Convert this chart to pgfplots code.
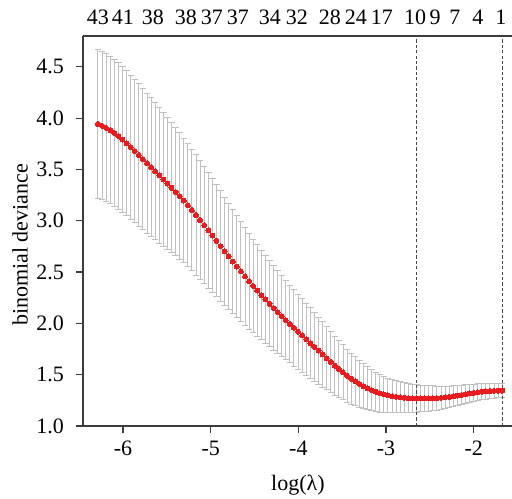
\documentclass[border=0pt]{standalone}
\usepackage{fontspec}
\setmainfont{Liberation Serif}
\usepackage{pgfplots}
\pgfplotsset{compat=1.18}
\usepackage{pgfplotstable}
\definecolor{barcol}{RGB}{192,192,192}
\definecolor{dotcol}{RGB}{232,28,30}
\definecolor{axcol}{RGB}{60,60,60}
\definecolor{vlcol}{RGB}{70,70,70}
\pgfplotstableread{
x y e
-6.285 3.943 0.725
-6.238 3.926 0.723
-6.192 3.906 0.720
-6.145 3.884 0.718
-6.099 3.857 0.715
-6.052 3.826 0.712
-6.006 3.792 0.710
-5.959 3.756 0.706
-5.912 3.718 0.702
-5.866 3.680 0.698
-5.819 3.641 0.694
-5.773 3.601 0.689
-5.726 3.561 0.683
-5.680 3.522 0.676
-5.633 3.482 0.668
-5.586 3.442 0.660
-5.540 3.402 0.651
-5.493 3.362 0.642
-5.447 3.322 0.633
-5.400 3.281 0.624
-5.354 3.240 0.616
-5.307 3.197 0.608
-5.260 3.152 0.600
-5.214 3.105 0.593
-5.167 3.057 0.586
-5.121 3.008 0.579
-5.074 2.958 0.571
-5.027 2.907 0.563
-4.981 2.856 0.555
-4.934 2.805 0.546
-4.888 2.754 0.537
-4.841 2.703 0.527
-4.795 2.653 0.517
-4.748 2.603 0.507
-4.702 2.554 0.497
-4.655 2.506 0.487
-4.608 2.458 0.477
-4.562 2.411 0.467
-4.515 2.365 0.457
-4.469 2.320 0.447
-4.422 2.276 0.437
-4.376 2.233 0.428
-4.329 2.191 0.420
-4.282 2.150 0.412
-4.236 2.110 0.404
-4.189 2.071 0.396
-4.143 2.032 0.388
-4.096 1.994 0.380
-4.050 1.956 0.373
-4.003 1.919 0.366
-3.957 1.882 0.359
-3.910 1.845 0.352
-3.863 1.808 0.344
-3.817 1.771 0.336
-3.770 1.734 0.327
-3.724 1.697 0.318
-3.677 1.660 0.308
-3.631 1.624 0.298
-3.584 1.589 0.288
-3.537 1.555 0.278
-3.491 1.522 0.268
-3.444 1.491 0.258
-3.398 1.462 0.248
-3.351 1.435 0.238
-3.305 1.410 0.228
-3.258 1.388 0.218
-3.211 1.368 0.209
-3.165 1.350 0.200
-3.118 1.334 0.192
-3.072 1.320 0.184
-3.025 1.308 0.176
-2.979 1.298 0.169
-2.932 1.290 0.162
-2.886 1.284 0.156
-2.839 1.279 0.150
-2.792 1.275 0.145
-2.746 1.272 0.141
-2.699 1.270 0.137
-2.653 1.269 0.133
-2.606 1.268 0.130
-2.560 1.268 0.127
-2.513 1.268 0.124
-2.466 1.269 0.121
-2.420 1.271 0.118
-2.373 1.274 0.114
-2.327 1.278 0.110
-2.280 1.283 0.106
-2.234 1.289 0.102
-2.187 1.296 0.098
-2.140 1.303 0.094
-2.094 1.310 0.090
-2.047 1.317 0.087
-2.001 1.323 0.084
-1.954 1.329 0.081
-1.908 1.334 0.078
-1.861 1.338 0.076
-1.815 1.341 0.074
-1.768 1.343 0.072
-1.721 1.344 0.070
-1.675 1.344 0.068
}\cvdata

\begin{document}
\begin{tikzpicture}
\pgfplotsset{
  common/.style={
    scale only axis, width=214.5pt, height=195pt,
    xmin=-6.456, xmax=-1.564, ymin=1.0, ymax=4.801,
    axis line style={axcol, line width=0.6pt},
    tick style={axcol, line width=0.6pt},
    tick label style={font=\fontsize{11}{13}\selectfont, text=black},
    label style={font=\fontsize{11}{13}\selectfont, text=black},
  }
}
\begin{axis}[common,
  axis x line*=bottom, axis y line*=left,
  tick align=outside, major tick length=3.5pt,
  xtick={-6,-5,-4,-3,-2}, xticklabels={-6,-5,-4,-3,-2},
  ytick={1,1.5,2,2.5,3,3.5,4,4.5},
  yticklabels={1.0,1.5,2.0,2.5,3.0,3.5,4.0,4.5},
  yticklabel style={xshift=-2.5pt},
  xticklabel style={yshift=-0.5pt},
  xlabel={log(λ)}, ylabel={binomial deviance},
  xlabel style={at={(axis description cs:0.501,-0.1513)}, anchor=center},
  ylabel style={at={(axis description cs:-0.1469,0.464)}, anchor=center},
  clip=false,
]
\addplot[draw=none, mark=none, forget plot,
  error bars/.cd, y dir=both, y explicit,
  error bar style={draw=barcol, line width=0.5pt},
  error mark options={rotate=90, mark size=1.6pt, draw=barcol, line width=0.5pt}]
  table[x=x, y=y, y error=e] {\cvdata};
\addplot[only marks, mark=*, mark size=1.25pt, color=dotcol, mark options={draw=dotcol, fill=dotcol, line width=0pt}]
  table[x=x, y=y] {\cvdata};
\addplot[vlcol, line width=0.55pt, dash pattern=on 1.6pt off 1.1pt, mark=none] coordinates {(-2.650,1.0) (-2.650,4.801)};
\addplot[vlcol, line width=0.55pt, dash pattern=on 1.6pt off 1.1pt, mark=none] coordinates {(-1.670,1.0) (-1.670,4.801)};
\coordinate (bl) at (rel axis cs:0,0);
\coordinate (tr) at (rel axis cs:1,1);
\end{axis}
\begin{axis}[common,
  axis x line*=top, axis y line=none,
  major tick length=0pt,
  xtick={-6.285,-6.0,-5.658,-5.282,-4.985,-4.689,-4.324,-4.016,-3.640,-3.343,-3.047,-2.670,-2.442,-2.214,-1.952,-1.690},
  xticklabels={43,41,38,38,37,37,34,32,28,24,17,10,9,7,4,1},
  xticklabel style={yshift=2pt},
]
\end{axis}
\pgfresetboundingbox
\path ([shift={(-41.5pt,-36.5pt)}]bl) rectangle ([shift={(0pt,18pt)}]tr);
\end{tikzpicture}
\end{document}
